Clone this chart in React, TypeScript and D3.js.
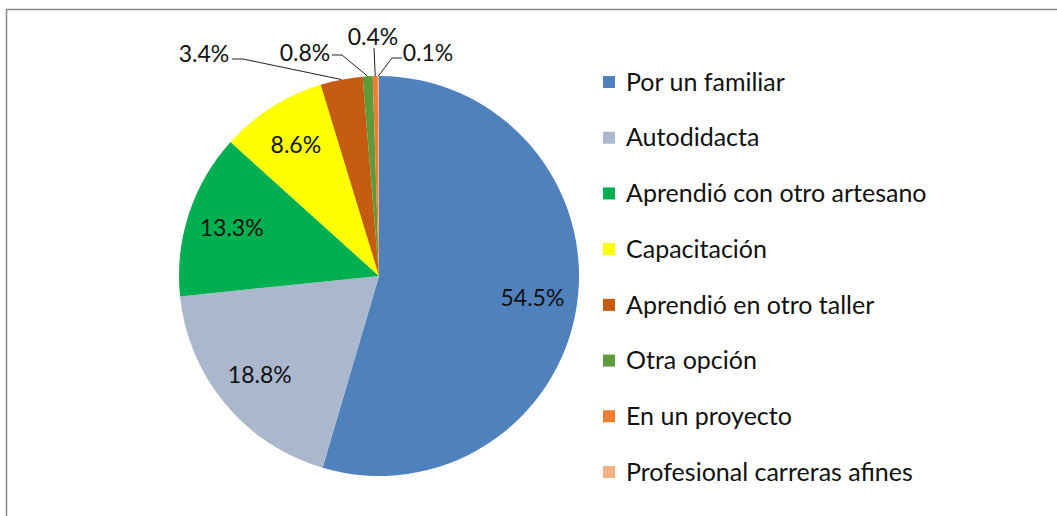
import React from "react";
import * as d3 from "d3";

const categories = [
  "Por un familiar",
  "Autodidacta",
  "Aprendió con otro artesano",
  "Capacitación",
  "Aprendió en otro taller",
  "Otra opción",
  "En un proyecto",
  "Profesional carreras afines",
];
const values = [54.5, 18.8, 13.3, 8.6, 3.4, 0.8, 0.4, 0.1];
const labels = ["54.5%", "18.8%", "13.3%", "8.6%", "3.4%", "0.8%", "0.4%", "0.1%"];
const colors = ["#4F81BD", "#AAB7CC", "#00B050", "#FFFF00", "#C55A11", "#5E9A3A", "#ED7D31", "#F4B183"];

// layout for callout labels (small slices): text center, line start, elbow
const callouts: Record<number, { tx: number; ty: number; sx: number; sy: number; ex: number; ey: number }> = {
  4: { tx: 204, ty: 54, sx: 232, sy: 59, ex: 243, ey: 59 },
  5: { tx: 305, ty: 53, sx: 332, sy: 55, ex: 342, ey: 55 },
  6: { tx: 373, ty: 37, sx: 374, sy: 48, ex: 374, ey: 48 },
  7: { tx: 428, ty: 53, sx: 402, sy: 58, ex: 392, ey: 58 },
};

const W = 1057;
const H = 516;
const cx = 379;
const cy = 276;
const R = 200;
const FONT = "Lato, 'Noto Sans', sans-serif";

export default function App() {
  const pie = d3.pie<number>().sort(null).startAngle(0).endAngle(2 * Math.PI);
  const arcs = pie(values);
  const arc = d3.arc<d3.PieArcDatum<number>>().innerRadius(0).outerRadius(R);
  const labelArc = d3.arc<d3.PieArcDatum<number>>().innerRadius(155).outerRadius(155);
  const edgeArc = d3.arc<d3.PieArcDatum<number>>().innerRadius(R).outerRadius(R);

  const legendY = d3.scalePoint<string>().domain(categories).range([82, 472]);

  return (
    <svg width={W} height={H} style={{ position: "absolute", left: 0, top: 0, background: "#fff" }}>
      <path d={`M6.5,${H} L6.5,9.5 L${W},9.5`} fill="none" stroke="#868686" strokeWidth={1.5} />
      <g transform={`translate(${cx},${cy})`}>
        {arcs.map((a, i) => (
          <path key={i} d={arc(a) || ""} fill={colors[i]} />
        ))}
      </g>
      {arcs.map((a, i) => {
        const c = callouts[i];
        if (!c) {
          const [x, y] = labelArc.centroid(a);
          return (
            <text key={i} x={cx + x} y={cy + y} dy="0.35em" textAnchor="middle" fontFamily={FONT} fontSize={23} fill="#111">
              {labels[i]}
            </text>
          );
        }
        const [px, py] = edgeArc.centroid(a);
        return (
          <g key={i}>
            <path
              d={`M${c.sx},${c.sy} L${c.ex},${c.ey} L${cx + px},${cy + py}`}
              fill="none"
              stroke="#222"
              strokeWidth={1}
            />
            <text x={c.tx} y={c.ty} dy="0.35em" textAnchor="middle" fontFamily={FONT} fontSize={23} fill="#111">
              {labels[i]}
            </text>
          </g>
        );
      })}
      {categories.map((c, i) => {
        const y = legendY(c) as number;
        return (
          <g key={c}>
            <rect x={603} y={y - 6} width={12} height={12} fill={colors[i]} />
            <text x={626} y={y} dy="0.35em" fontFamily={FONT} fontSize={25} fill="#111">
              {c}
            </text>
          </g>
        );
      })}
    </svg>
  );
}
